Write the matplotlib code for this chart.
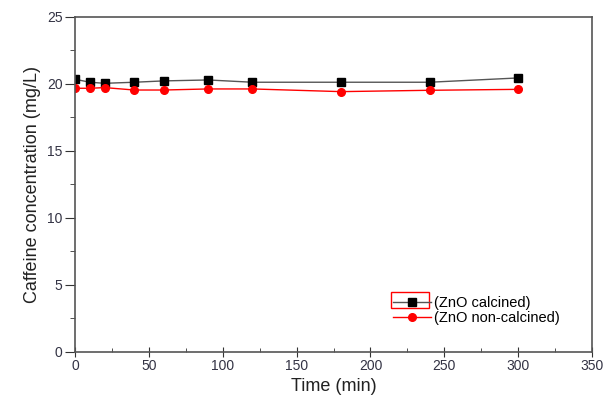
import matplotlib.pyplot as plt
from matplotlib.patches import Rectangle
from matplotlib.ticker import MultipleLocator

plt.rcParams['font.family'] = ['Liberation Sans', 'DejaVu Sans']

time_min = [0, 10, 20, 40, 60, 90, 120, 180, 240, 300]
calcined = [20.32, 20.1, 20.02, 20.1, 20.2, 20.27, 20.1, 20.1, 20.1, 20.42]
non_calcined = [19.65, 19.65, 19.7, 19.52, 19.52, 19.6, 19.6, 19.4, 19.5, 19.57]

fig = plt.figure(figsize=(6.16, 4.03), dpi=100)
ax = fig.add_axes([0.122, 0.127, 0.839, 0.832])

ax.plot(time_min, calcined, color='#555555', lw=1, marker='s', ms=6,
        mfc='black', mec='black', label='(ZnO calcined)')
ax.plot(time_min, non_calcined, color='red', lw=1, marker='o', ms=5.5,
        mfc='red', mec='red', label='(ZnO non-calcined)')

ax.set_xlim(0, 350)
ax.set_ylim(0, 25)
ax.xaxis.set_major_locator(MultipleLocator(50))
ax.xaxis.set_minor_locator(MultipleLocator(25))
ax.yaxis.set_major_locator(MultipleLocator(5))
ax.yaxis.set_minor_locator(MultipleLocator(2.5))

for s in ax.spines.values():
    s.set_color('#555555')
    s.set_linewidth(1.2)

ax.tick_params(axis='x', which='major', direction='inout', length=7, color='#333333',
               labelsize=10, labelcolor='#333344', top=False, pad=2)
ax.tick_params(axis='x', which='minor', direction='in', length=3, color='#333333', top=False)
ax.tick_params(axis='y', which='major', direction='out', length=7, color='#333333',
               labelsize=10, labelcolor='#333344', right=False, pad=2)
ax.tick_params(axis='y', which='minor', direction='out', length=3.5, color='#333333', right=False)

ax.set_xlabel('Time (min)', fontsize=13, color='#222222', labelpad=3)
ax.set_ylabel('Caffeine concentration (mg/L)', fontsize=13, color='#222222', labelpad=4)

leg = ax.legend(loc='lower left', bbox_to_anchor=(0.609, 0.07), frameon=False,
                fontsize=10.5, handlelength=2.6, handletextpad=0.2, labelspacing=0.1,
                borderpad=0.2, borderaxespad=0)

# red box drawn around the first legend handle
ax.add_patch(Rectangle((0.611, 0.131), 0.074, 0.048, transform=ax.transAxes,
                       fill=False, edgecolor='red', lw=1, clip_on=False))

fig.savefig('out.png', dpi=100)
